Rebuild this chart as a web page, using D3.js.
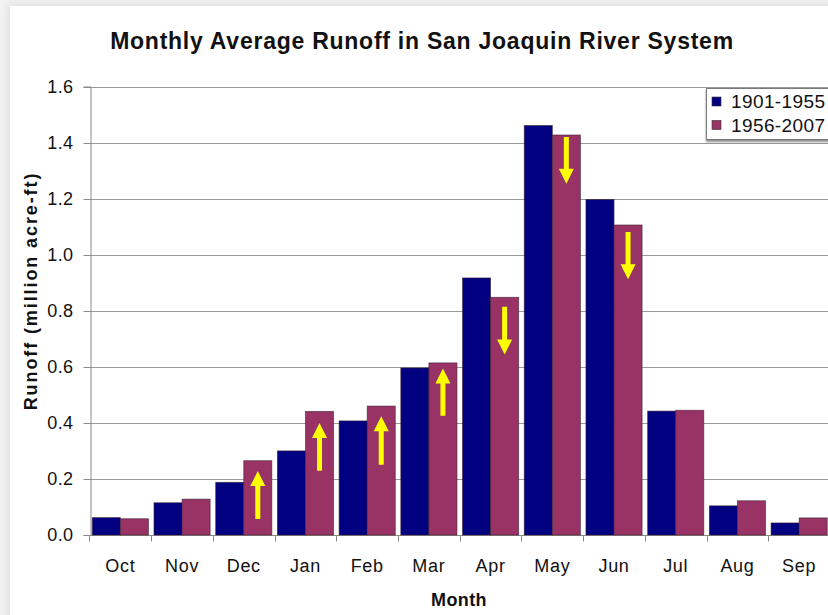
<!DOCTYPE html>
<html>
<head>
<meta charset="utf-8">
<script src="https://cdn.jsdelivr.net/npm/d3@7"></script>
<style>
  html, body { margin: 0; padding: 0; background: #f2f2f2; }
  svg { display: block; }
  text { font-family: "Liberation Sans", Arial, sans-serif; fill: #111; }
</style>
</head>
<body>
<svg id="chart" width="828" height="615"></svg>
<script>
// ---------- data ----------
const months = ["Oct","Nov","Dec","Jan","Feb","Mar","Apr","May","Jun","Jul","Aug","Sep"];
const seriesNames = ["1901-1955","1956-2007"];
const runoff1901_1955 = [0.062, 0.115, 0.188, 0.300, 0.407, 0.596, 0.917, 1.461, 1.197, 0.442, 0.104, 0.043];
const runoff1956_2007 = [0.058, 0.128, 0.265, 0.441, 0.460, 0.614, 0.848, 1.427, 1.106, 0.445, 0.122, 0.061];
const yTicks = [0, 0.2, 0.4, 0.6, 0.8, 1.0, 1.2, 1.4, 1.6];
// change arrows (drawn inside the 1956-2007 bars)
const arrowMonths = ["Dec","Jan","Feb","Mar","Apr","May","Jun"];
const arrowFrom   = [0.057, 0.229, 0.251, 0.425, 0.814, 1.420, 1.081];
const arrowTo     = [0.228, 0.400, 0.424, 0.594, 0.644, 1.253, 0.912];

const colors = ["#000080", "#993366"];

// ---------- layout ----------
const svg = d3.select("#chart");
const W = 828, H = 615;
const plot = { left: 90, right: 830, top: 86.5, bottom: 535 };

const defs = svg.append("defs");
const sh = defs.append("filter").attr("id","cardShadow").attr("x","-5%").attr("y","-5%").attr("width","110%").attr("height","110%");
sh.append("feDropShadow").attr("dx",0).attr("dy",0).attr("stdDeviation",4).attr("flood-color","#000").attr("flood-opacity",0.14);
const lsh = defs.append("filter").attr("id","legShadow").attr("x","-10%").attr("y","-10%").attr("width","130%").attr("height","140%");
lsh.append("feDropShadow").attr("dx",0).attr("dy",2).attr("stdDeviation",0.8).attr("flood-color","#000").attr("flood-opacity",0.45);

// card
svg.append("rect").attr("x",10).attr("y",6).attr("width",W+20).attr("height",H+20)
  .attr("fill","#fff").attr("filter","url(#cardShadow)");

const x0 = d3.scaleBand().domain(months).range([plot.left - 0.5, plot.right]).paddingInner(0.09).paddingOuter(0.045);
const x1 = d3.scaleBand().domain(seriesNames).range([0, x0.bandwidth()]);
const y = d3.scaleLinear().domain([0, 1.6]).range([plot.bottom, plot.top]);

// gridlines
svg.append("g").selectAll("line").data(yTicks).join("line")
  .attr("x1", plot.left).attr("x2", plot.right)
  .attr("y1", d => Math.round(y(d)) + 0.5).attr("y2", d => Math.round(y(d)) + 0.5)
  .attr("stroke", "#9a9a9a").attr("stroke-width", 1);

// y axis
const yAxis = d3.axisLeft(y).tickValues(yTicks).tickFormat(d3.format(".1f")).tickSize(7).tickPadding(10);
const gy = svg.append("g").attr("transform", `translate(${plot.left + 0.5},0)`).call(yAxis);
gy.select(".domain").attr("stroke", "#8a8a8a");
gy.selectAll(".tick line").attr("stroke", "#8a8a8a");
gy.selectAll(".tick text").style("font-size","18px").style("letter-spacing","0.4px")
  .attr("fill","#111").style("font-family","'Liberation Sans', Arial, sans-serif");
gy.selectAll(".tick").attr("transform", d => `translate(0,${Math.round(y(d)) + 0.5})`);

// x axis (ticks at category boundaries)
const boundaries = months.map(m => x0(m) - x0.step() * x0.paddingInner() / 2);
const gx = svg.append("g").attr("transform", `translate(0,${plot.bottom + 0.5})`);
gx.append("line").attr("x1", plot.left).attr("x2", plot.right).attr("stroke", "#8a8a8a");
gx.selectAll("line.tk").data(boundaries).join("line").attr("class","tk")
  .attr("x1", d => Math.round(d) + 0.5).attr("x2", d => Math.round(d) + 0.5)
  .attr("y1", 0).attr("y2", 6).attr("stroke", "#8a8a8a");
gx.call(d3.axisBottom(x0).tickSize(0).tickPadding(24))
  .call(g => g.select(".domain").remove());
gx.selectAll(".tick text").style("font-size","18px").style("letter-spacing","0.7px")
  .attr("fill","#111").style("font-family","'Liberation Sans', Arial, sans-serif");

// bars
const groups = svg.append("g").selectAll("g").data(months).join("g")
  .attr("transform", m => `translate(${x0(m)},0)`);
groups.selectAll("rect").data((m, i) => [
    { s: seriesNames[0], v: runoff1901_1955[i] },
    { s: seriesNames[1], v: runoff1956_2007[i] }
  ]).join("rect")
  .attr("x", d => x1(d.s))
  .attr("y", d => y(d.v))
  .attr("width", x1.bandwidth())
  .attr("height", d => y(0) - y(d.v))
  .attr("fill", (d, j) => colors[j])
  .attr("stroke", "#3a2030").attr("stroke-width", 0.8).attr("stroke-opacity", 0.7);

// arrows
const shaftW = 5, headW = 15, headL = 15;
arrowMonths.forEach((m, i) => {
  const cx = x0(m) + x1(seriesNames[1]) + x1.bandwidth() / 2;
  const yf = y(arrowFrom[i]), yt = y(arrowTo[i]);
  const dir = yt < yf ? -1 : 1;   // -1 up, +1 down
  const yb = yt - dir * headL;
  const p = d3.path();
  p.moveTo(cx - shaftW/2, yf);
  p.lineTo(cx - shaftW/2, yb);
  p.lineTo(cx - headW/2, yb);
  p.lineTo(cx, yt);
  p.lineTo(cx + headW/2, yb);
  p.lineTo(cx + shaftW/2, yb);
  p.lineTo(cx + shaftW/2, yf);
  p.closePath();
  svg.append("path").attr("d", p.toString()).attr("fill", "#ffff00");
});

// title
svg.append("text").attr("x", 422).attr("y", 49).attr("text-anchor","middle")
  .style("font-size","23px").style("font-weight","bold").style("letter-spacing","0.75px")
  .text("Monthly Average Runoff in San Joaquin River System");

// axis titles
svg.append("text").attr("transform", "translate(37,291) rotate(-90)").attr("text-anchor","middle")
  .style("font-size","18px").style("font-weight","bold").style("letter-spacing","1.9px")
  .text("Runoff (million acre-ft)");
svg.append("text").attr("x", 459).attr("y", 606).attr("text-anchor","middle")
  .style("font-size","18px").style("font-weight","bold").style("letter-spacing","0.4px")
  .text("Month");

// legend
const leg = svg.append("g");
leg.append("rect").attr("x", 706.5).attr("y", 88.5).attr("width", 140).attr("height", 51)
  .attr("fill", "#fff").attr("stroke", "#7a7a7a").attr("stroke-width", 1).attr("filter","url(#legShadow)");
seriesNames.forEach((s, i) => {
  leg.append("rect").attr("x", 712).attr("y", 97 + i * 23.5).attr("width", 9).attr("height", 9)
    .attr("fill", colors[i]).attr("stroke", "#333").attr("stroke-width", 0.6);
  leg.append("text").attr("x", 731).attr("y", 107.5 + i * 24.5)
    .style("font-size","19px").style("letter-spacing","0.4px").text(s);
});
</script>
</body>
</html>
